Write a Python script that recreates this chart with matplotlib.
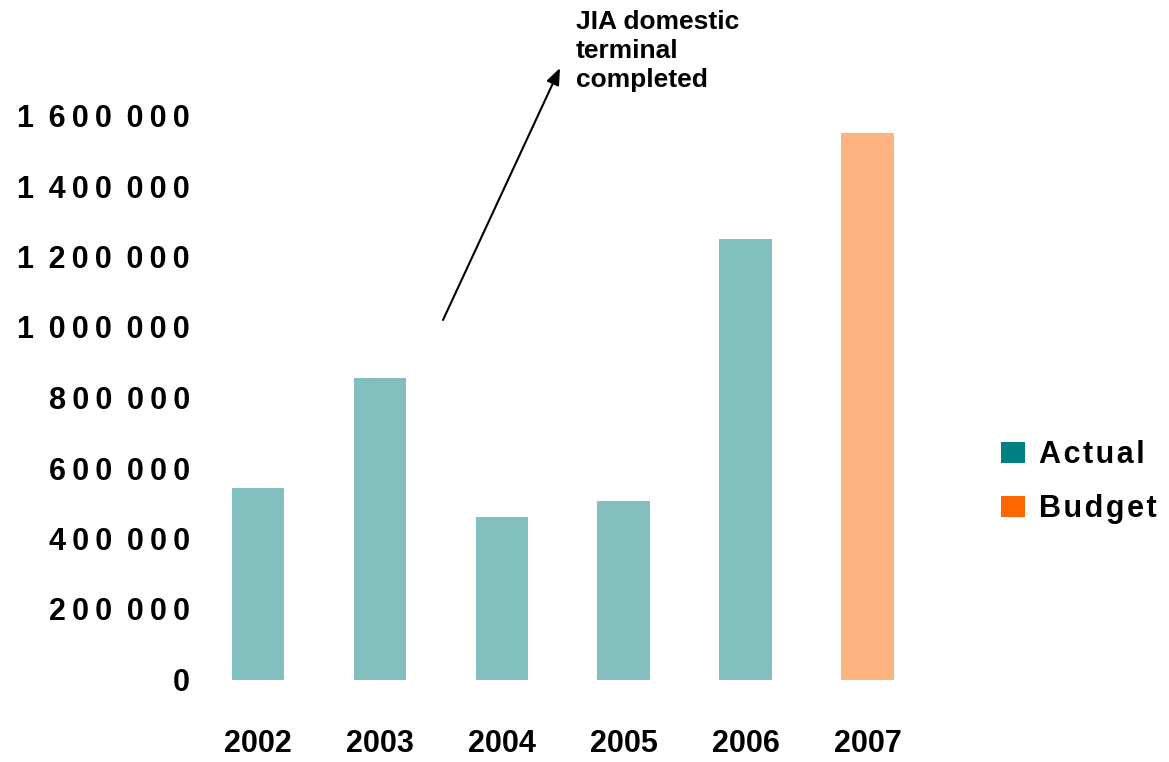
import matplotlib
matplotlib.use("Agg")
import matplotlib.pyplot as plt
from matplotlib.patches import Patch
from matplotlib.ticker import FuncFormatter

plt.rcParams['font.family'] = ['Liberation Sans', 'DejaVu Sans']
plt.rcParams['font.weight'] = 'bold'

years = ['2002', '2003', '2004', '2005', '2006', '2007']
passengers = [543000, 855000, 461000, 506000, 1250000, 1550000]
kind = ['Actual', 'Actual', 'Actual', 'Actual', 'Actual', 'Budget']
ticks = [0, 200000, 400000, 600000, 800000, 1000000, 1200000, 1400000, 1600000]

solid = {'Actual': '#008080', 'Budget': '#FF6600'}
light = {'Actual': '#82BFBF', 'Budget': '#FFB381'}

fig = plt.figure(figsize=(11.69, 7.62), dpi=100)
ax = fig.add_axes([197/1169, 82.5/762, 731.5/1169, 564/762])

x = list(range(len(years)))
ax.bar(x, passengers, width=0.43, color=[light[k] for k in kind], linewidth=0)

ax.set_xlim(-0.5, len(years) - 0.5)
ax.set_ylim(0, 1600000)
ax.set_xticks(x)
ax.set_xticklabels(years, fontsize=22, fontweight='bold')
ax.set_yticks(ticks)


def spaced(v, pos):
    # french style thousands with a little letter spacing
    s = f"{int(round(v)):,}".replace(',', ' ')
    s = '\u2009'.join(s)
    return s.replace('\u2009 \u2009', ' \u2009')


ax.yaxis.set_major_formatter(FuncFormatter(spaced))
for lab in ax.get_yticklabels():
    lab.set_fontsize(22)
    lab.set_fontweight('bold')

ax.tick_params(axis='x', length=0, pad=36)
ax.tick_params(axis='y', length=0, pad=5)
for sp in ax.spines.values():
    sp.set_visible(False)

# arrow pointing at the domestic terminal note
ax.annotate('', xy=(560/1169, 1 - 68/762), xycoords='figure fraction',
            xytext=(443/1169, 1 - 320/762), textcoords='figure fraction',
            arrowprops=dict(arrowstyle='-|>,head_length=1.0,head_width=0.4',
                            color='black', lw=1.5, shrinkA=0, shrinkB=0))
fig.text(576/1169, 1 - 10/762, 'JIA domestic\nterminal\ncompleted',
         fontsize=19, fontweight='bold', ha='left', va='top', linespacing=1.27)

handles = [Patch(facecolor=solid[k], edgecolor='none') for k in ['Actual', 'Budget']]
labels = ['A\u200ac\u200at\u200au\u200aa\u200al', 'B\u200au\u200ad\u200ag\u200ae\u200at']
fig.legend(handles, labels, loc='upper left',
           bbox_to_anchor=(1001/1169, 1 - 440/762), frameon=False,
           prop={'weight': 'bold', 'size': 22},
           handlelength=0.8, handleheight=0.7, handletextpad=0.45,
           labelspacing=0.8, borderpad=0, borderaxespad=0)

fig.savefig('out.png', dpi=100)
